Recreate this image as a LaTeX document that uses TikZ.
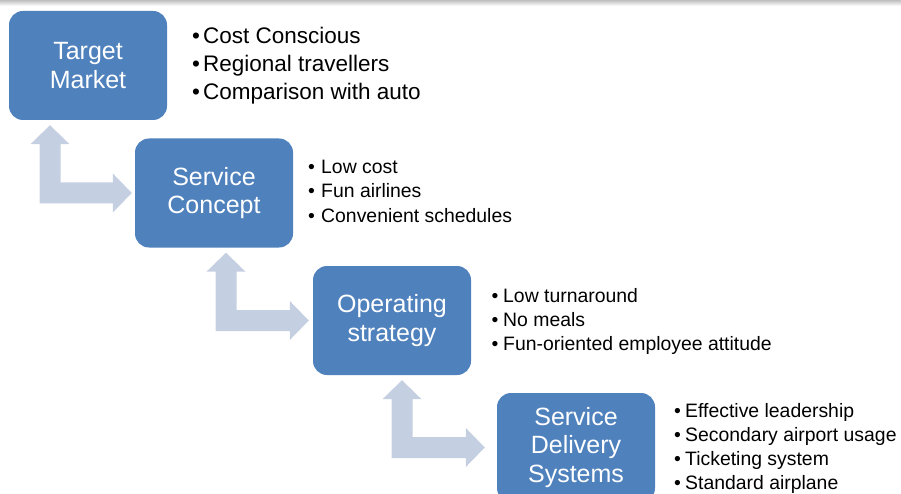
\documentclass[tikz,border=0pt]{standalone}
\usepackage{fontspec}
\setmainfont{Liberation Sans}
\usetikzlibrary{calc}
\definecolor{boxblue}{RGB}{79,129,189}
\definecolor{arrowgray}{RGB}{197,207,226}

\tikzset{
  stage/.style={fill=boxblue, rounded corners=14pt, minimum width=158pt, minimum height=109pt,
    inner sep=0pt, text=white, align=center, font=\fontsize{25}{28.5}\selectfont},
  bigitem/.style={anchor=base west, inner sep=0pt, font=\fontsize{22.5}{27}\selectfont},
  smallitem/.style={anchor=base west, inner sep=0pt, font=\fontsize{19.4}{24}\selectfont},
  arrowfill/.style={fill=arrowgray}
}

% #1 = x of the shaft, #2 = upper box, #3 = lower box, #4 = gap before #3
\newcommand{\bentarrow}[4]{%
  \fill[arrowfill] let \p1=(#2.south), \p2=(#3.west) in
    ({#1},{\y1-5}) -- ({#1+19.5},{\y1-24}) -- ({#1+10.5},{\y1-24})
    -- ({#1+10.5},{\y2+10.5}) -- ({\x2-#4-19},{\y2+10.5}) -- ({\x2-#4-19},{\y2+19.5})
    -- ({\x2-#4},{\y2}) -- ({\x2-#4-19},{\y2-19.5}) -- ({\x2-#4-19},{\y2-10.5})
    -- ({#1-10.5},{\y2-10.5}) -- ({#1-10.5},{\y1-24}) -- ({#1-19.5},{\y1-24}) -- cycle;
}

\begin{document}
\begin{tikzpicture}[x=1pt,y=1pt]
\useasboundingbox (0,0) rectangle (901,-494);
% Schatten oben
\shade[top color=black!25, bottom color=white] (0,0) rectangle (901,-6);

% Die Kaesten
\node[stage] (tm) at (88,-65.5) {Target\\Market};
\node[stage] (sc) at (214,-193) {Service\\Concept};
\node[stage] (os) at (392,-320.5) {Operating\\strategy};
\node[stage] (sd) at (576,-447.5) {Service\\Delivery\\Systems};

% Pfeile
\bentarrow{50}{tm}{sc}{3}
\bentarrow{226}{sc}{os}{4}
\bentarrow{402}{os}{sd}{12}

% Stichpunkte
\foreach \t [count=\i] in {Cost Conscious, Regional travellers, Comparison with auto}
    \node[bigitem] (tm\i) at (192,{-44-28*(\i-1)}) {\makebox[11pt][l]{\textbullet}\t};
\foreach \t [count=\i] in {Low cost, Fun airlines, Convenient schedules}
    \node[smallitem] (sc\i) at (308,{-173.5-24.5*(\i-1)}) {\makebox[13pt][l]{\textbullet}\t};
\foreach \t [count=\i] in {Low turnaround, No meals, Fun-oriented employee attitude}
    \node[smallitem] (os\i) at (491.5,{-302-24*(\i-1)}) {\makebox[11.5pt][l]{\textbullet}\t};
\foreach \t [count=\i] in {Effective leadership, Secondary airport usage, Ticketing system, Standard airplane}
    \node[smallitem] (sd\i) at (674,{-417-24.2*(\i-1)}) {\makebox[11pt][l]{\textbullet}\t};
\end{tikzpicture}
\end{document}
